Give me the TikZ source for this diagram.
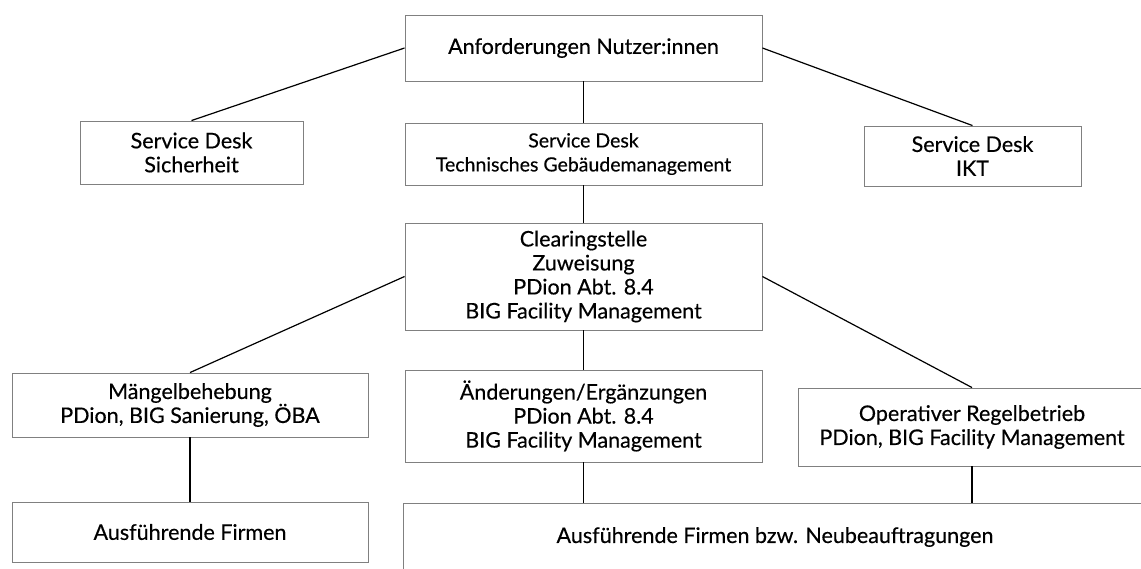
\documentclass[tikz,border=0pt]{standalone}
\usepackage{fontspec}
\setmainfont{Lato}
\newfontfamily\heavylato{Lato}[FakeBold=0.35]
\begin{document}
\begin{tikzpicture}[x=1pt,y=-1pt,
  box/.style={draw=black!50, line width=0.9pt, rectangle, align=center, inner sep=0pt,
    font=\heavylato\fontsize{21.5}{24}\selectfont, text=black},
  smalltext/.style={font=\heavylato\fontsize{19.5}{24}\selectfont},
  conn/.style={draw=black, line width=1.2pt}]
\path[use as bounding box, clip] (0,0) rectangle (1141,568);
\fill[white] (0,0) rectangle (1141,568);
\node[box, minimum width=357, minimum height=66] (top) at (583.5,48) {Anforderungen Nutzer:innen};
\node[box, minimum width=223, minimum height=63] (sich) at (191.5,152.5) {Service Desk\\Sicherheit};
\node[box, smalltext, minimum width=357, minimum height=62] (tgm) at (583.5,154) {Service Desk\\Technisches Gebäudemanagement};
\node[box, minimum width=217, minimum height=60] (ikt) at (972.5,156) {Service Desk\\IKT};
\node[box, minimum width=357, minimum height=107] (clr) at (583.5,276.5) {Clearingstelle\\Zuweisung\\PDion Abt. 8.4\\BIG Facility Management};
\node[box, minimum width=356, minimum height=64] (mang) at (190,405) {Mängelbehebung\\PDion, BIG Sanierung, ÖBA};
\node[box, minimum width=357, minimum height=92] (aend) at (583.5,416) {Änderungen/Ergänzungen\\PDion Abt. 8.4\\BIG Facility Management};
\node[box, minimum width=348, minimum height=78] (oper) at (972,427) {Operativer Regelbetrieb\\PDion, BIG Facility Management};
\node[box, minimum width=356, minimum height=60] (firm) at (190,532) {Ausführende Firmen};
\node[box, minimum width=744, minimum height=68] (neu) at (775,537) {Ausführende Firmen bzw. Neubeauftragungen};
\draw[conn] (top.west) -- (sich.north);
\draw[conn] (top.south) -- (tgm.north);
\draw[conn] (top.east) -- (ikt.north);
\draw[conn] (tgm.south) -- (clr.north);
\draw[conn] (clr.west) -- (mang.north);
\draw[conn] (clr.south) -- (aend.north);
\draw[conn] (clr.east) -- (oper.north);
\draw[conn] (mang.south) -- (firm.north);
\draw[conn] (aend.south) -- (aend.south |- neu.north);
\draw[conn] (oper.south) -- (oper.south |- neu.north);
\end{tikzpicture}
\end{document}
